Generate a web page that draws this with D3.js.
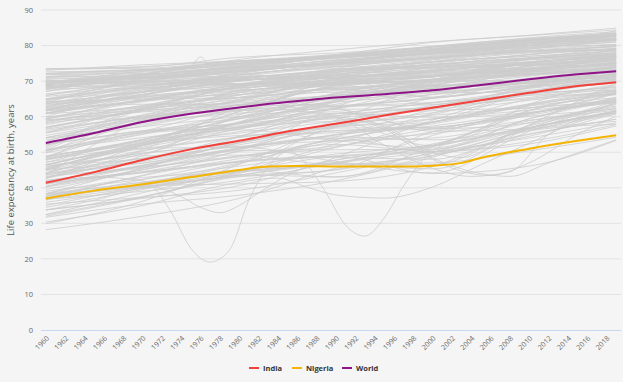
<!DOCTYPE html>
<html>
<head>
<meta charset="utf-8">
<script src="https://cdn.jsdelivr.net/npm/d3@7"></script>
<style>
  html, body { margin: 0; padding: 0; background: #f5f5f5; }
  svg { display: block; }
  text { font-family: "Open Sans", "Noto Sans", sans-serif; }
</style>
</head>
<body>
<svg id="chart" width="623" height="382"></svg>
<script>
// ---------------- DATA ----------------
const allYears = d3.range(1960, 2020);
const xTickYears = d3.range(1960, 2020, 2);
const yTicks = [0, 10, 20, 30, 40, 50, 60, 70, 80, 90];

// Highlighted series
const indiaYears   = [1960, 1965, 1970, 1975, 1980, 1985, 1990, 1995, 2000, 2005, 2010, 2015, 2019];
const indiaValues  = [41.4, 44.4, 47.8, 50.8, 53.2, 55.8, 58.0, 60.3, 62.5, 64.6, 66.7, 68.6, 69.7];
const nigeriaYears  = [1960, 1965, 1970, 1975, 1980, 1983, 1986, 1990, 1995, 1998, 2000, 2003, 2005, 2010, 2015, 2019];
const nigeriaValues = [37.0, 39.2, 41.0, 43.0, 45.0, 46.0, 46.1, 46.0, 46.0, 46.0, 46.2, 47.0, 48.4, 51.0, 53.2, 54.8];
const worldYears   = [1960, 1965, 1970, 1975, 1980, 1985, 1990, 1995, 2000, 2005, 2010, 2015, 2019];
const worldValues  = [52.6, 55.4, 58.5, 60.8, 62.6, 64.1, 65.4, 66.3, 67.4, 68.9, 70.5, 71.9, 72.8];

// Other countries, values at decade years
const decadeYears = [1960, 1970, 1980, 1990, 2000, 2010, 2019];
const otherCountries = [
  [67.7, 72.0, 76.1, 78.8, 81.1, 82.8, 84.4],
  [67.0, 72.0, 74.7, 77.4, 80.9, 82.9, 84.9],
  [71.3, 73.0, 75.5, 77.2, 79.7, 82.2, 83.9],
  [69.1, 72.0, 75.4, 76.9, 79.0, 81.6, 83.5],
  [69.1, 71.6, 73.9, 76.9, 79.8, 82.0, 83.5],
  [70.8, 71.0, 74.3, 77.0, 79.2, 81.7, 82.9],
  [73.4, 73.9, 76.7, 77.9, 79.7, 81.9, 83.2],
  [73.5, 74.1, 75.7, 76.5, 78.6, 81.0, 83.0],
  [73.0, 74.6, 75.7, 77.5, 79.6, 81.5, 83.1],
  [73.4, 73.6, 75.7, 76.9, 77.9, 80.7, 81.8],
  [72.2, 73.3, 74.1, 74.8, 76.9, 79.1, 81.5],
  [69.9, 71.7, 74.1, 76.6, 78.9, 81.7, 82.8],
  [71.1, 71.9, 73.7, 75.9, 77.7, 80.4, 81.4],
  [69.8, 70.8, 73.6, 75.2, 76.6, 78.5, 78.8],
  [71.1, 72.7, 75.1, 77.4, 79.2, 81.2, 82.0],
  [69.3, 70.6, 72.7, 75.2, 77.9, 80.0, 81.3],
  [69.4, 71.6, 73.7, 76.7, 78.9, 81.6, 82.8],
  [71.2, 71.4, 73.1, 75.4, 78.6, 80.9, 82.0],
  [65.7, 68.3, 72.2, 75.3, 78.0, 81.5, 83.6],
  [55.4, 62.2, 66.0, 71.7, 76.0, 80.1, 83.3],
  [62.8, 67.1, 71.2, 74.0, 76.3, 79.0, 81.7],
  [68.2, 71.6, 74.3, 76.9, 78.0, 80.4, 81.7],
  [68.8, 70.2, 73.4, 74.8, 77.5, 79.9, 81.9],
  [68.6, 70.0, 72.6, 75.6, 78.1, 80.6, 81.9],
  [69.7, 71.0, 73.2, 76.0, 77.7, 80.0, 81.6],
  [69.8, 71.2, 72.7, 74.8, 76.5, 80.7, 82.7],
  [70.3, 69.2, 70.3, 71.4, 75.0, 77.4, 79.2],
  [68.0, 69.2, 69.1, 69.3, 71.2, 74.2, 76.4],
  [66.1, 68.1, 67.5, 68.9, 65.5, 68.8, 73.2],
  [68.3, 70.9, 69.2, 70.1, 67.9, 70.3, 71.8],
  [69.2, 71.3, 71.2, 71.6, 71.7, 73.5, 75.1],
  [67.7, 70.1, 70.4, 70.9, 73.7, 76.2, 77.9],
  [57.0, 62.1, 68.8, 73.6, 77.0, 79.1, 80.3],
  [60.9, 65.8, 72.6, 76.9, 77.7, 78.7, 80.3],
  [63.9, 70.6, 73.9, 74.6, 76.7, 78.3, 78.8],
  [67.7, 68.7, 70.1, 72.5, 74.7, 76.4, 77.9],
  [64.2, 65.6, 68.8, 71.6, 73.8, 75.3, 76.7],
  [69.0, 71.1, 70.5, 71.2, 72.0, 73.3, 76.4],
  [69.8, 70.0, 68.8, 69.3, 70.3, 72.8, 75.4],
  [68.0, 70.0, 69.3, 69.5, 70.4, 75.4, 78.8],
  [63.7, 66.9, 68.7, 70.1, 71.5, 72.6, 73.8],
  [65.9, 70.0, 72.0, 68.0, 70.5, 73.2, 75.1],
  [58.7, 62.1, 64.8, 67.9, 63.5, 68.3, 73.2],
  [68.8, 72.2, 70.8, 70.8, 68.9, 70.4, 74.2],
  [65.0, 68.1, 69.1, 69.7, 71.2, 73.5, 75.9],
  [63.0, 67.5, 70.2, 71.5, 71.6, 74.3, 75.9],
  [62.3, 66.3, 70.2, 71.8, 75.4, 77.9, 78.6],
  [64.4, 68.6, 71.0, 71.6, 73.8, 74.5, 74.4],
  [63.5, 65.4, 68.1, 69.1, 70.0, 72.1, 73.5],
  [57.1, 61.7, 66.8, 70.8, 74.4, 74.6, 75.1],
  [54.1, 59.1, 62.7, 66.3, 69.8, 73.6, 75.9],
  [59.3, 64.8, 68.4, 71.1, 72.3, 73.0, 72.1],
  [56.7, 61.7, 66.1, 69.0, 71.6, 75.2, 77.3],
  [60.8, 66.2, 70.5, 73.0, 75.5, 77.0, 78.5],
  [59.4, 64.2, 68.1, 69.5, 71.1, 75.0, 77.0],
  [59.6, 64.6, 68.4, 71.0, 72.6, 74.6, 76.2],
  [54.7, 59.4, 64.4, 70.3, 71.2, 75.0, 77.2],
  [59.1, 61.3, 63.3, 65.3, 67.7, 69.6, 71.2],
  [43.7, 59.1, 66.8, 69.3, 71.4, 75.2, 77.0],
  [59.1, 59.6, 67.5, 70.6, 73.0, 74.6, 75.4],
  [45.4, 51.8, 58.2, 64.3, 70.0, 75.0, 77.7],
  [44.9, 51.1, 51.5, 62.8, 70.2, 73.7, 76.7],
  [48.0, 52.0, 58.3, 64.6, 68.6, 70.4, 72.0],
  [48.4, 52.7, 58.5, 64.7, 68.7, 74.2, 76.7],
  [46.1, 50.2, 58.5, 66.7, 70.5, 75.1, 76.9],
  [45.6, 52.6, 61.4, 69.0, 72.7, 73.7, 75.1],
  [42.7, 50.7, 62.7, 69.7, 73.0, 74.7, 76.7],
  [47.7, 53.5, 59.4, 65.6, 70.5, 74.1, 76.7],
  [41.9, 46.0, 51.1, 57.5, 63.2, 66.8, 71.5],
  [46.5, 52.4, 57.2, 62.3, 68.0, 71.4, 74.1],
  [46.4, 52.7, 59.9, 66.5, 70.4, 72.8, 75.1],
  [47.1, 53.6, 58.2, 64.3, 69.7, 72.5, 74.5],
  [50.5, 56.0, 56.9, 64.1, 69.1, 71.6, 73.1],
  [52.0, 58.4, 63.3, 68.3, 70.6, 72.0, 74.1],
  [52.7, 57.4, 62.4, 68.8, 72.7, 75.2, 77.0],
  [63.8, 65.2, 66.2, 68.0, 70.0, 72.4, 74.2],
  [48.0, 53.5, 58.3, 62.3, 66.3, 69.5, 71.7],
  [45.4, 47.0, 52.6, 58.2, 65.3, 69.9, 72.6],
  [45.3, 51.4, 55.8, 60.2, 62.8, 65.0, 67.3],
  [35.0, 40.5, 46.7, 54.3, 62.0, 67.1, 70.8],
  [44.2, 50.5, 54.1, 57.8, 61.1, 64.6, 67.1],
  [48.8, 55.7, 58.0, 60.8, 63.9, 66.5, 69.9],
  [29.9, 36.2, 46.6, 57.0, 60.6, 66.1, 66.1],
  [32.4, 37.4, 43.2, 45.1, 55.8, 60.9, 64.8],
  [43.2, 45.8, 48.7, 53.6, 58.5, 63.6, 67.6],
  [41.7, 46.4, 50.9, 54.9, 57.4, 61.1, 64.0],
  [38.3, 45.6, 52.8, 57.5, 60.4, 62.5, 64.5],
  [48.2, 52.4, 54.7, 55.5, 58.4, 63.0, 65.3],
  [37.9, 40.3, 44.4, 57.1, 58.5, 64.9, 67.9],
  [45.9, 49.7, 52.6, 56.8, 57.0, 61.0, 64.1],
  [46.4, 52.0, 56.8, 58.6, 51.8, 61.8, 66.7],
  [38.4, 42.9, 44.4, 47.2, 51.9, 61.6, 66.6],
  [43.6, 46.9, 50.4, 50.7, 50.8, 59.4, 65.5],
  [44.1, 49.0, 49.2, 46.5, 46.5, 57.6, 63.4],
  [45.0, 49.7, 51.5, 47.4, 44.2, 55.9, 63.9],
  [52.2, 55.5, 57.0, 62.0, 55.9, 56.6, 64.1],
  [28.2, 32.0, 37.0, 45.5, 49.0, 55.0, 59.3],
  [35.4, 37.3, 39.3, 44.2, 49.9, 57.4, 62.4],
  [32.5, 38.6, 44.6, 48.9, 50.6, 56.7, 61.6],
  [38.0, 41.6, 45.0, 46.8, 47.0, 50.4, 54.2],
  [36.5, 42.3, 47.3, 48.9, 44.0, 46.1, 53.3],
  [33.8, 37.0, 40.6, 47.8, 51.9, 56.9, 61.6],
  [32.0, 37.3, 44.0, 51.4, 56.6, 60.1, 62.1],
  [37.0, 40.8, 43.1, 45.0, 49.6, 52.3, 57.4],
  [41.2, 44.5, 47.2, 48.9, 50.1, 56.1, 60.7],
  [38.3, 40.4, 43.6, 43.1, 49.1, 54.5, 60.9],
  [37.5, 40.5, 41.1, 41.8, 46.0, 56.7, 61.1],
  [37.0, 40.8, 44.5, 46.7, 45.3, 56.7, 64.3],
  [41.8, 46.2, 51.1, 53.9, 50.1, 55.2, 59.3],
  [37.0, 43.4, 48.2, 52.2, 50.2, 53.0, 57.8],
  [31.7, 35.4, 37.9, 42.0, 48.6, 56.0, 57.9],
  [37.3, 41.2, 47.0, 53.0, 55.2, 59.0, 61.8],
  [40.3, 46.2, 51.3, 54.3, 53.5, 56.9, 61.0],
  [40.2, 44.5, 48.9, 51.4, 58.5, 63.3, 66.7],
  [36.8, 39.0, 42.1, 46.9, 50.1, 54.0, 58.3],
  [33.8, 37.5, 44.5, 52.4, 61.0, 68.0, 71.8],
  [36.7, 40.1, 43.6, 47.1, 51.6, 56.4, 58.7],
  [34.5, 39.5, 45.0, 43.0, 51.5, 60.7, 64.1],
  [41.3, 44.2, 47.5, 48.5, 48.0, 56.7, 61.6],
  [45.2, 51.8, 56.5, 61.4, 56.6, 58.2, 63.7],
  [48.6, 53.2, 56.3, 53.3, 51.2, 59.4, 64.6],
  [39.5, 45.4, 54.4, 61.0, 59.8, 61.2, 66.5],
  [43.5, 49.5, 56.6, 59.7, 61.7, 62.5, 64.9],
  [38.4, 41.5, 44.7, 46.7, 54.7, 62.3, 66.3],
  [44.1, 48.3, 53.4, 56.1, 57.0, 60.9, 66.6],
  [41.0, 45.1, 50.9, 55.0, 59.3, 61.8, 64.3],
  [50.5, 55.5, 58.2, 62.4, 65.2, 68.6, 73.0],
  [63.2, 65.6, 67.4, 69.4, 74.0, 77.5, 78.9],
  [53.0, 60.5, 65.4, 69.8, 71.4, 73.1, 74.5],
  [52.0, 58.6, 64.9, 70.4, 72.4, 73.5, 72.7],
  [48.1, 58.9, 61.9, 65.3, 68.8, 68.6, 70.6],
  [60.0, 66.8, 69.3, 72.0, 74.2, 75.4, 75.5],
  [51.1, 62.1, 68.5, 72.4, 74.7, 76.6, 77.9],
  [61.0, 67.1, 72.2, 75.5, 77.6, 79.6, 80.2],
  [51.5, 62.6, 68.2, 72.5, 74.7, 76.5, 77.3],
  [42.7, 49.0, 60.4, 70.5, 73.3, 76.4, 78.0],
  [42.6, 52.0, 61.5, 68.6, 70.4, 72.1, 72.9],
  [58.7, 62.9, 66.2, 68.9, 71.5, 73.0, 74.9],
  [55.4, 59.5, 63.2, 65.8, 66.7, 66.9, 67.4],
  [49.8, 55.0, 59.9, 65.4, 69.4, 72.0, 73.3],
  [60.0, 61.8, 63.1, 63.2, 65.4, 68.0, 69.9],
  [59.4, 63.0, 65.4, 67.7, 68.4, 70.4, 71.6],
  [60.9, 64.8, 68.9, 71.0, 68.5, 72.8, 74.6],
  [56.1, 59.9, 62.4, 68.3, 68.6, 69.4, 71.4],
  [50.6, 60.0, 62.0, 62.9, 63.3, 68.2, 71.1],
  [57.7, 62.6, 65.3, 66.9, 67.0, 69.8, 71.7],
  [54.1, 58.4, 61.0, 62.9, 64.0, 66.4, 68.2],
  [60.8, 62.5, 63.9, 64.9, 66.8, 70.9, 73.0],
  [62.0, 64.9, 65.4, 67.6, 67.0, 69.0, 71.9],
  [49.8, 59.8, 64.5, 70.4, 65.3, 70.6, 72.3],
  [48.8, 53.6, 59.6, 65.3, 69.0, 71.7, 73.0],
  [50.2, 55.9, 61.7, 62.1, 62.2, 66.3, 70.4],
  [37.6, 43.5, 50.5, 59.0, 69.5, 76.2, 79.2],
  [46.5, 52.2, 58.0, 63.5, 67.7, 69.3, 70.5],
  [48.9, 52.6, 55.4, 58.8, 62.7, 66.0, 68.4],
  [68.6, 70.2, 72.7, 75.0, 77.9, 80.6, 82.6],
  [68.6, 70.6, 72.6, 75.2, 78.3, 81.3, 82.9],
  [69.6, 72.8, 75.5, 76.6, 77.7, 79.4, 81.0],
  [68.3, 69.0, 70.9, 73.2, 75.5, 79.4, 81.6],
  [64.6, 68.8, 70.1, 72.2, 72.8, 76.5, 78.6],
  [70.0, 69.6, 70.4, 71.0, 73.1, 75.3, 77.6],
  [69.0, 72.1, 73.8, 74.4, 76.7, 78.4, 79.9],
  [61.8, 67.6, 70.7, 73.3, 76.0, 78.1, 79.2],
  [62.5, 65.9, 67.9, 70.3, 72.3, 72.0, 73.9],
  [65.0, 70.0, 74.4, 77.0, 78.6, 80.0, 84.2],
  [69.0, 71.0, 73.0, 75.0, 78.0, 80.0, 81.6],
  [72.0, 73.0, 75.0, 77.0, 79.0, 81.5, 82.9],
  [62.0, 63.5, 63.5, 65.5, 67.5, 70.3, 71.9],
  [63.5, 68.5, 71.7, 74.1, 73.8, 75.4, 76.8],
  [62.0, 66.1, 70.0, 72.0, 74.5, 76.0, 77.4],
  [61.7, 66.3, 69.1, 71.0, 73.0, 74.9, 75.9],
  [64.1, 66.9, 71.7, 73.5, 73.6, 74.7, 76.3],
  [65.0, 67.0, 70.0, 73.0, 75.5, 77.0, 78.3],
  [62.5, 68.0, 71.5, 74.8, 76.5, 78.5, 79.6],
  [61.0, 64.5, 69.0, 72.8, 75.3, 77.5, 80.1],
  [57.0, 62.3, 68.4, 70.9, 71.6, 73.4, 76.2],
  [61.6, 64.6, 67.3, 69.7, 71.7, 72.6, 72.5],
  [61.6, 64.3, 66.7, 69.0, 69.8, 70.3, 70.9],
  [70.5, 71.5, 73.5, 75.8, 78.2, 80.8, 82.3],
  [71.8, 72.5, 74.6, 76.3, 78.8, 81.2, 82.6],
  [72.6, 73.2, 74.8, 76.8, 78.4, 80.6, 82.1],
  [70.1, 70.8, 72.9, 74.9, 77.2, 79.6, 80.9],
  [66.4, 69.4, 72.0, 74.1, 76.3, 78.3, 79.7],
  [64.8, 67.9, 70.6, 72.9, 74.6, 76.4, 77.6],
  [67.2, 69.5, 71.1, 72.6, 74.1, 76.0, 77.1],
  [58.3, 63.2, 67.1, 69.6, 71.3, 73.2, 74.8],
  [55.6, 60.4, 64.4, 67.4, 69.8, 71.9, 73.7],
  [53.4, 57.9, 61.6, 64.1, 66.2, 68.7, 70.3],
  [40.5, 45.0, 50.2, 54.8, 58.0, 63.1, 66.9],
  [43.0, 47.8, 52.1, 56.0, 56.5, 60.4, 64.9],
  [47.2, 51.0, 54.3, 57.2, 59.4, 63.5, 67.2],
  [50.8, 54.1, 57.5, 60.3, 62.6, 65.4, 68.7],
  [53.9, 57.2, 60.0, 62.8, 65.1, 68.3, 71.0],
  [56.5, 60.1, 63.4, 66.1, 68.2, 70.6, 72.9],
  [44.8, 48.3, 51.6, 53.2, 54.0, 58.8, 63.0],
  [39.0, 42.4, 46.1, 49.5, 52.0, 57.0, 61.2],
  [42.1, 45.6, 49.0, 51.8, 55.7, 60.8, 65.2],
  [48.9, 53.0, 57.0, 60.8, 63.9, 67.4, 70.0],
  [35.9, 39.8, 43.5, 47.8, 52.3, 58.3, 62.7],
  [58.1, 61.5, 64.2, 66.0, 67.9, 69.9, 71.3]
];

// Countries with irregular dips, values at their own years
const irregularYears = [
  [1960, 1965, 1970, 1971, 1973, 1975, 1977, 1979, 1981, 1983, 1985, 1990, 2000, 2010, 2019],
  [1960, 1970, 1980, 1985, 1987, 1989, 1991, 1993, 1995, 1997, 1999, 2005, 2010, 2019],
  [1960, 1965, 1971, 1974, 1976, 1978, 1980, 1982, 1985, 1990, 2000, 2010, 2019],
  [1960, 1970, 1978, 1984, 1987, 1990, 1995, 2000, 2005, 2010, 2015, 2019],
  [1960, 1970, 1974, 1975, 1976, 1977, 1978, 1980, 1990, 2000, 2010, 2019],
  [1960, 1970, 1980, 1986, 1990, 1995, 2000, 2004, 2008, 2012, 2019],
  [1960, 1970, 1980, 1990, 1995, 2000, 2004, 2006, 2010, 2015, 2019],
  [1960, 1970, 1980, 1990, 1995, 2000, 2005, 2008, 2012, 2019],
  [1960, 1970, 1980, 1988, 1995, 2000, 2003, 2008, 2019]
];
const irregularValues = [
  [41.2, 43.0, 42.0, 40.5, 33.0, 23.0, 19.1, 22.5, 36.5, 46.0, 50.5, 53.6, 58.4, 66.6, 69.8],
  [42.0, 44.3, 47.5, 50.5, 46.5, 38.5, 29.5, 26.4, 31.5, 40.5, 47.8, 56.5, 63.4, 69.0],
  [33.7, 36.5, 40.2, 37.5, 34.5, 33.0, 35.0, 38.5, 43.5, 48.5, 59.0, 66.5, 69.5],
  [30.4, 35.0, 40.5, 42.7, 40.2, 38.0, 37.1, 40.2, 46.5, 52.5, 58.5, 61.5],
  [72.0, 73.2, 73.6, 74.2, 76.8, 74.5, 74.6, 75.0, 77.2, 79.5, 81.5, 82.5],
  [52.3, 56.0, 59.4, 61.5, 59.9, 52.0, 45.5, 43.2, 44.5, 55.0, 61.5],
  [44.0, 47.4, 52.6, 59.9, 56.5, 48.0, 44.0, 43.5, 47.0, 55.0, 60.2],
  [46.6, 48.2, 54.5, 59.4, 57.5, 48.5, 44.0, 43.2, 47.0, 53.5],
  [50.6, 55.2, 60.7, 63.5, 57.0, 50.0, 48.5, 55.0, 69.6]
];

// Legend
const legendNames  = ["India", "Nigeria", "World"];
const legendColors = ["#f2403a", "#f4b400", "#8e1487"];

// ---------------- CHART ----------------
const svg = d3.select("#chart");
const W = 623, H = 382;
const plotLeft = 41, plotRight = 621, plotTop = 10, plotBottom = 330;

svg.append("rect").attr("width", W).attr("height", H).attr("fill", "#f5f5f5");

const x = d3.scaleBand().domain(allYears).range([plotLeft, plotRight]).padding(0);
const xc = yr => x(yr) + x.bandwidth() / 2;
const y = d3.scaleLinear().domain([0, 90]).range([plotBottom, plotTop]);

// Gridlines
svg.append("g")
  .selectAll("line")
  .data(yTicks.filter(d => d > 0))
  .join("line")
  .attr("x1", plotLeft).attr("x2", plotRight)
  .attr("y1", d => y(d)).attr("y2", d => y(d))
  .attr("stroke", "#e2e2e2").attr("stroke-width", 1);

// Y axis labels
const yAxis = svg.append("g")
  .attr("transform", `translate(${plotLeft - 8},0)`)
  .call(d3.axisLeft(y).tickValues(yTicks).tickSize(0).tickPadding(0));
yAxis.select(".domain").remove();
yAxis.selectAll("text").attr("fill", "#666").attr("font-size", "7.5px");

// X axis
const xAxis = svg.append("g")
  .attr("transform", `translate(0,${plotBottom})`)
  .call(d3.axisBottom(x).tickValues(xTickYears).tickSize(0).tickPadding(0));
xAxis.select(".domain").attr("stroke", "#c8d6f0").attr("stroke-width", 1)
  .attr("d", `M${plotLeft},0.5H${plotRight}`);
xAxis.selectAll("text")
  .attr("fill", "#666").attr("font-size", "7.2px")
  .attr("text-anchor", "end")
  .attr("dy", "0.35em")
  .attr("transform", "translate(2,7) rotate(-45)");

// Y axis title
svg.append("text")
  .attr("transform", `translate(14,${(plotTop + plotBottom) / 2}) rotate(-90)`)
  .attr("text-anchor", "middle")
  .attr("fill", "#555")
  .attr("font-size", "9.5px")
  .text("Life expectancy at birth, years");

const line = d3.line()
  .x(d => xc(d[0]))
  .y(d => y(d[1]))
  .curve(d3.curveMonotoneX);

const grayG = svg.append("g");
otherCountries.forEach(vals => {
  grayG.append("path")
    .attr("d", line(vals.map((v, i) => [decadeYears[i], v])))
    .attr("fill", "none").attr("stroke", "#cdcdcd").attr("stroke-width", 0.8);
});
irregularValues.forEach((vals, k) => {
  grayG.append("path")
    .attr("d", line(vals.map((v, i) => [irregularYears[k][i], v])))
    .attr("fill", "none").attr("stroke", "#cbcbcb").attr("stroke-width", 0.8);
});

// Highlighted
const highlights = [
  [nigeriaYears, nigeriaValues, legendColors[1]],
  [indiaYears, indiaValues, legendColors[0]],
  [worldYears, worldValues, legendColors[2]]
];
highlights.forEach(([yrs, vals, col]) => {
  svg.append("path")
    .attr("d", line(vals.map((v, i) => [yrs[i], v])))
    .attr("fill", "none").attr("stroke", col).attr("stroke-width", 2);
});

// Legend
const legendX = [249, 292, 342];
const lg = svg.append("g");
legendNames.forEach((name, i) => {
  lg.append("line")
    .attr("x1", legendX[i]).attr("x2", legendX[i] + 10)
    .attr("y1", 368).attr("y2", 368)
    .attr("stroke", legendColors[i]).attr("stroke-width", 2);
  lg.append("text")
    .attr("x", legendX[i] + 14).attr("y", 368)
    .attr("dy", "0.35em")
    .attr("font-size", "7.5px").attr("font-weight", "bold")
    .attr("fill", "#333")
    .text(name);
});
</script>
</body>
</html>
